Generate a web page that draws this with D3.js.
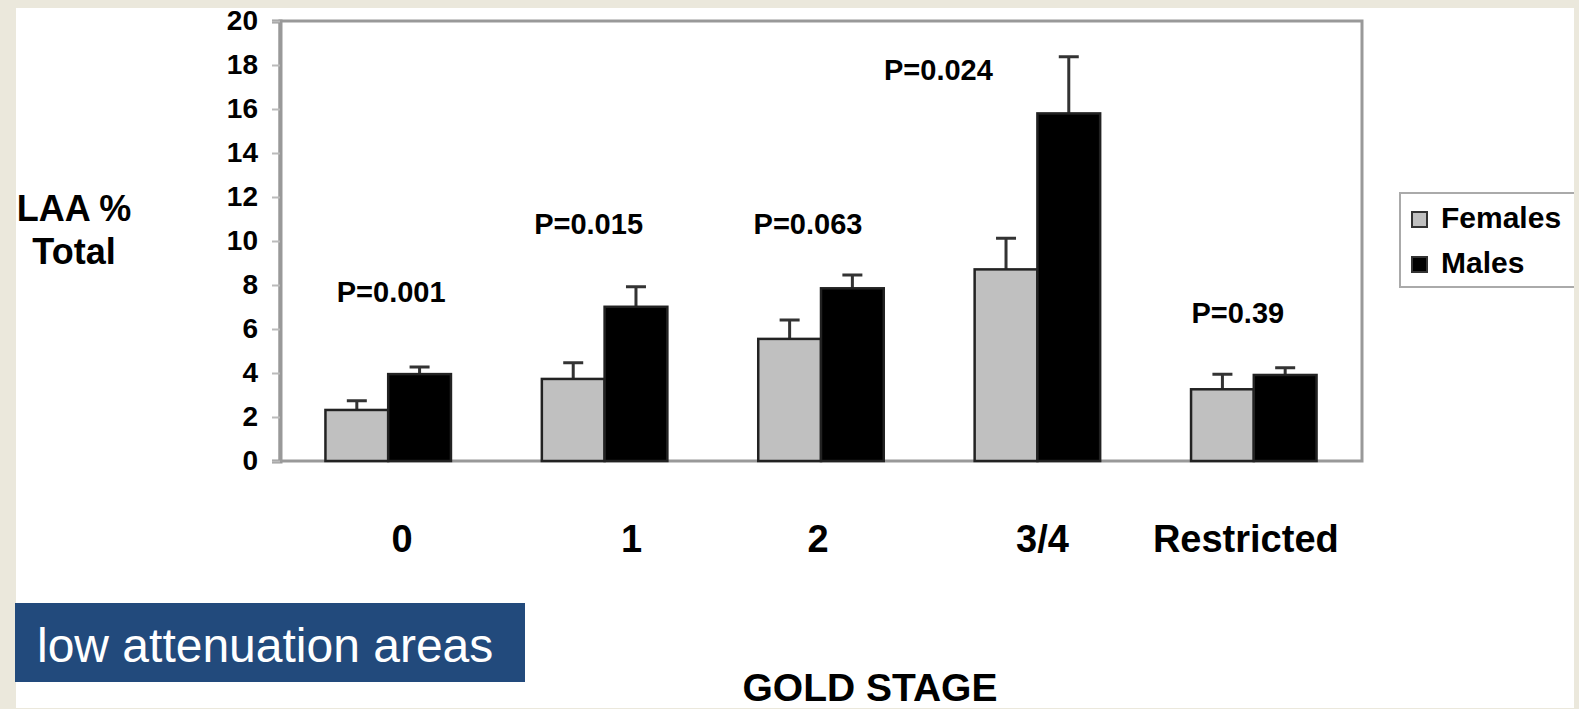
<!DOCTYPE html>
<html>
<head>
<meta charset="utf-8">
<script src="https://cdn.jsdelivr.net/npm/d3@7"></script>
<style>
  body { margin: 0; background: #ebe8dc; }
  svg { display: block; }
  text { font-family: "Liberation Sans", Arial, sans-serif; }
</style>
</head>
<body>
<script>
// values
const categories = ["0", "1", "2", "3/4", "Restricted"]
const series = ["Females", "Males"]
const females = [2.32, 3.73, 5.55, 8.71, 3.26]
const males = [3.95, 7.01, 7.85, 15.8, 3.91]
const femalesErr = [0.42, 0.74, 0.86, 1.41, 0.68]
const malesErr = [0.32, 0.91, 0.60, 2.58, 0.33]
const pLabels = ["P=0.001", "P=0.015", "P=0.063", "P=0.024", "P=0.39"]
const yTicks = [0, 2, 4, 6, 8, 10, 12, 14, 16, 18, 20]

// layout tweaks for the annotations
const pPos = [[3, 7.24], [-16, 10.3], [-13, 10.3], [-99, 17.3], [-16, 6.27]]
const catShift = [14, 27, -3, 5, -8]

const width = 1579
const height = 709
const plotL = 280, plotR = 1362, plotT = 21, plotB = 461

const svg = d3.select("body").append("svg")
  .attr("width", width)
  .attr("height", height)

// white slide panel
svg.append("rect")
  .attr("x", 16).attr("y", 8)
  .attr("width", 1558).attr("height", 700)
  .attr("fill", "#ffffff")

const x0 = d3.scaleBand()
  .domain(categories)
  .range([plotL, plotR])
  .paddingInner(0.42)
  .paddingOuter(0.21)

const x1 = d3.scaleBand()
  .domain(series)
  .range([0, x0.bandwidth()])

const y = d3.scaleLinear()
  .domain([0, 20])
  .range([plotB, plotT])

const color = d3.scaleOrdinal().domain(series).range(["#c0c0c0", "#000000"])

const rows = categories.map((c, i) => ({
  cat: c,
  vals: [
    { s: "Females", v: females[i], e: femalesErr[i] },
    { s: "Males", v: males[i], e: malesErr[i] }
  ]
}))

// plot frame
svg.append("rect")
  .attr("x", plotL).attr("y", plotT)
  .attr("width", plotR - plotL).attr("height", plotB - plotT)
  .attr("fill", "none")
  .attr("stroke", "#999")
  .attr("stroke-width", 3)

const yAxis = svg.append("g")
  .attr("transform", "translate(" + plotL + ",0)")
  .call(d3.axisLeft(y).tickValues(yTicks).tickSize(8).tickPadding(14))
yAxis.select(".domain").attr("stroke", "#999").attr("stroke-width", 4)
yAxis.selectAll(".tick line").attr("stroke", "#bbb").attr("stroke-width", 2)
yAxis.selectAll(".tick text")
  .attr("fill", "#000")
  .style("font-size", "28px")
  .style("font-weight", "bold")

const groups = svg.selectAll(".grp")
  .data(rows)
  .enter()
  .append("g")
  .attr("class", "grp")
  .attr("transform", d => "translate(" + x0(d.cat) + ",0)")

// error bars (upper only)
groups.selectAll(".err")
  .data(d => d.vals)
  .enter()
  .append("path")
  .attr("class", "err")
  .attr("d", d => {
    const cx = x1(d.s) + x1.bandwidth() / 2
    return "M" + cx + "," + y(d.v) + "V" + y(d.v + d.e) +
      "M" + (cx - 10) + "," + y(d.v + d.e) + "H" + (cx + 10)
  })
  .attr("stroke", "#333")
  .attr("stroke-width", 3)
  .attr("fill", "none")

groups.selectAll(".bar")
  .data(d => d.vals)
  .enter()
  .append("rect")
  .attr("class", "bar")
  .attr("x", d => x1(d.s))
  .attr("y", d => y(d.v))
  .attr("width", x1.bandwidth())
  .attr("height", d => plotB - y(d.v))
  .attr("fill", d => color(d.s))
  .attr("stroke", "#222")
  .attr("stroke-width", 2.5)

// category axis
const xAxis = svg.append("g")
  .attr("transform", "translate(0," + plotB + ")")
  .call(d3.axisBottom(x0).tickSize(0).tickPadding(64))
xAxis.select(".domain").remove()
xAxis.selectAll(".tick text")
  .attr("fill", "#000")
  .attr("dx", (d, i) => catShift[i])
  .style("font-size", "38px")
  .style("font-weight", "bold")

// p-values
svg.selectAll(".pval")
  .data(pLabels)
  .enter()
  .append("text")
  .attr("class", "pval")
  .attr("x", (d, i) => x0(categories[i]) + x0.bandwidth() / 2 + pPos[i][0])
  .attr("y", (d, i) => y(pPos[i][1]))
  .attr("text-anchor", "middle")
  .style("font-size", "29px")
  .style("font-weight", "bold")
  .text(d => d)

// y label
const yl = svg.append("text")
  .attr("text-anchor", "middle")
  .style("font-size", "36px")
  .style("font-weight", "bold")
yl.append("tspan").attr("x", 74).attr("y", 221).text("LAA %")
yl.append("tspan").attr("x", 74).attr("y", 264).text("Total")

// legend
svg.append("rect")
  .attr("x", 1400).attr("y", 193)
  .attr("width", 190).attr("height", 94)
  .attr("fill", "#fff")
  .attr("stroke", "#aaa")
  .attr("stroke-width", 2)

const leg = svg.selectAll(".leg")
  .data(series)
  .enter()
  .append("g")
  .attr("class", "leg")
  .attr("transform", (d, i) => "translate(1412," + (228 + i * 45) + ")")
leg.append("rect")
  .attr("x", 0).attr("y", -16)
  .attr("width", 15).attr("height", 15)
  .attr("fill", d => color(d))
  .attr("stroke", "#333")
  .attr("stroke-width", 2)
leg.append("text")
  .attr("x", 29).attr("y", 0)
  .style("font-size", "30px")
  .style("font-weight", "bold")
  .text(d => d)

// x title
svg.append("text")
  .attr("x", 870).attr("y", 701)
  .attr("text-anchor", "middle")
  .style("font-size", "39px")
  .style("font-weight", "bold")
  .text("GOLD STAGE")

// caption box
svg.append("rect")
  .attr("x", 15).attr("y", 603)
  .attr("width", 510).attr("height", 79)
  .attr("fill", "#224a7c")
svg.append("text")
  .attr("x", 37).attr("y", 662)
  .attr("fill", "#fff")
  .style("font-size", "48px")
  .text("low attenuation areas")

// right edge of slide
svg.append("rect")
  .attr("x", 1574).attr("y", 0)
  .attr("width", 5).attr("height", height)
  .attr("fill", "#ebe8dc")
</script>
</body>
</html>
